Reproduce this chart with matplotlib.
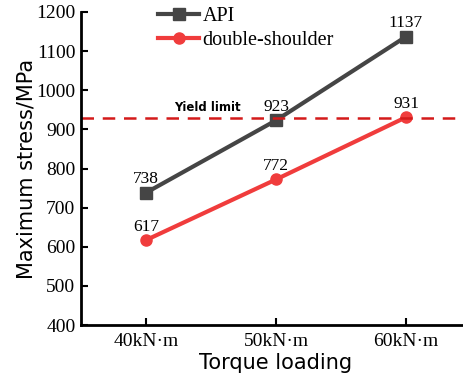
import matplotlib
matplotlib.use("Agg")
import matplotlib.pyplot as plt

# data
categories = ["40kN·m", "50kN·m", "60kN·m"]
api = [738, 923, 1137]
double_shoulder = [617, 772, 931]
yield_limit = 930

fig = plt.figure(figsize=(4.64, 3.85), dpi=100)
ax = fig.add_axes([81 / 464, 60 / 385, 390 / 464, 313 / 385])

x = list(range(len(categories)))
ax.plot(x, api, color="#454545", linewidth=3, marker="s", markersize=8, label="API")
ax.plot(x, double_shoulder, color="#f03c3c", linewidth=3, marker="o", markersize=8,
        label="double-shoulder")
ax.axhline(yield_limit, color="#d41a1a", linestyle=(0, (5, 3.5)), linewidth=1.8)
ax.text(0.22, yield_limit + 10, "Yield limit", fontsize=8.5, fontweight="bold",
        family="DejaVu Sans", ha="left", va="bottom")

for xi, v in zip(x, api):
    ax.text(xi, v + 14, str(v), ha="center", va="bottom", fontsize=12.5, family="Liberation Serif")
for xi, v in zip(x, double_shoulder):
    ax.text(xi, v + 14, str(v), ha="center", va="bottom", fontsize=12.5, family="Liberation Serif")

ax.set_xlim(-0.5, 2.5)
ax.set_ylim(400, 1200)
ax.set_xticks(x)
ax.set_xticklabels(categories, family="Liberation Serif", fontsize=14)
ax.set_yticks(range(400, 1201, 100))
for lab in ax.get_yticklabels():
    lab.set_family("Liberation Serif")
    lab.set_fontsize(14)
ax.tick_params(direction="in", length=5, width=1.5, pad=6)
ax.tick_params(axis="y", pad=4)

for s in ["top", "right"]:
    ax.spines[s].set_visible(False)
for s in ["left", "bottom"]:
    ax.spines[s].set_linewidth(2)

ax.set_xlabel("Torque loading", family="DejaVu Sans", fontsize=15, labelpad=2)
ax.set_ylabel("Maximum stress/MPa", family="DejaVu Sans", fontsize=15, labelpad=0)

ax.legend(loc="upper left", bbox_to_anchor=(0.152, 1.075), frameon=False,
          prop={"family": "Liberation Serif", "size": 14.5}, handlelength=2.0,
          handletextpad=0.2, labelspacing=0.25)

fig.savefig("out.png", dpi=100)
